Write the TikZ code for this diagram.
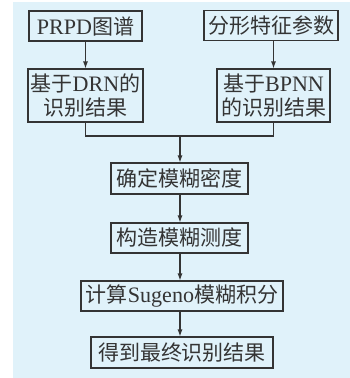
\documentclass[tikz,border=0pt]{standalone}
\usepackage{fontspec}
\setmainfont{Liberation Serif}[Scale=1.05]
\newfontfamily\cjk{Noto Sans CJK SC}
\usetikzlibrary{arrows.meta}
\definecolor{bgblue}{RGB}{224,242,250}
\definecolor{ln}{RGB}{52,52,52}
\begin{document}
\begin{tikzpicture}[x=1pt,y=-1pt,
  box/.style={draw=ln, line width=1.1pt, inner sep=0pt, text=ln, align=center,
    font=\fontsize{21}{24}\selectfont},
  conn/.style={draw=ln, line width=1.1pt},
  arr/.style={conn, -{Latex[length=7pt,width=5pt]}}]
\useasboundingbox (0,0) rectangle (350,378);
\fill[bgblue] (13,2) rectangle (350,378);
\node[box, minimum width=113pt, minimum height=30pt] (a) at (85.5,26) {PRPD{\cjk 图谱}};
\node[box, minimum width=134pt, minimum height=30pt] (b) at (271,25.5) {{\cjk 分形特征参数}};
\node[box, minimum width=115pt, minimum height=53pt] (c) at (85.5,95.5) {{\cjk 基于}DRN{\cjk 的}\\{\cjk 识别结果}};
\node[box, minimum width=113pt, minimum height=53pt] (d) at (273.5,95.5) {{\cjk 基于}BPNN\\{\cjk 的识别结果}};
\node[box, minimum width=137pt, minimum height=31pt] (e) at (179.5,178.5) {{\cjk 确定模糊密度}};
\node[box, minimum width=137pt, minimum height=30pt] (f) at (179.5,238) {{\cjk 构造模糊测度}};
\node[box, minimum width=202pt, minimum height=30pt] (g) at (182,296) {{\cjk 计算}Sugeno{\cjk 模糊积分}};
\node[box, minimum width=182pt, minimum height=31pt] (h) at (182,352.5) {{\cjk 得到最终识别结果}};
\coordinate (J) at (180,136);
\draw[arr] (a.south) -- (c.north);
\draw[arr] (b.south -| d.north) -- (d.north);
\draw[conn] (c.south) |- (J);
\draw[conn] (d.south) |- (J);
\draw[arr] (J) -- (J |- e.north);
\draw[arr] (J |- e.south) -- (J |- f.north);
\draw[arr] (J |- f.south) -- (J |- g.north);
\draw[arr] (J |- g.south) -- (J |- h.north);
\end{tikzpicture}
\end{document}
